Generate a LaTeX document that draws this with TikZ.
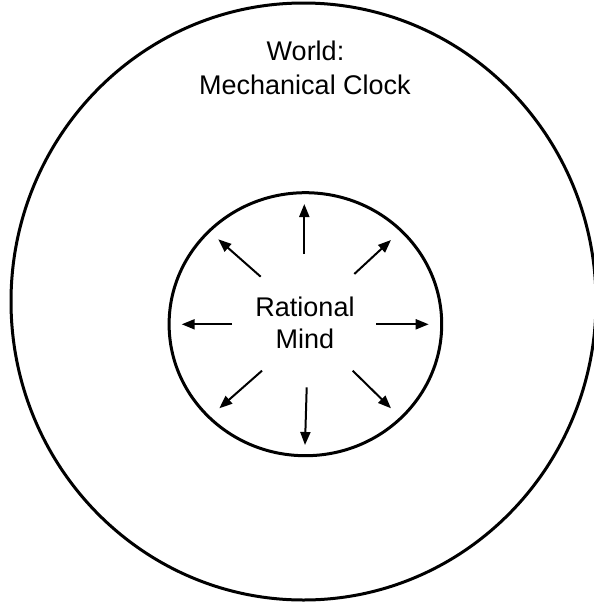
\documentclass[tikz,border=0pt]{standalone}
\usepackage{fontspec}
\setmainfont{Liberation Sans}
\usetikzlibrary{arrows.meta}
\begin{document}
\begin{tikzpicture}[x=1pt,y=-1pt,
  ring/.style={line width=3pt},
  ray/.style={line width=2pt,-{Triangle[length=13pt,width=10pt]}},
  lbl/.style={font=\fontsize{27}{33}\selectfont, inner sep=0pt, anchor=base}]
\useasboundingbox (0,0) rectangle (594,603);
% circles
\draw[ring] (303.5,301.5) ellipse [x radius=292.5pt, y radius=298.5pt];
\draw[ring] (305.4,324.2) ellipse [x radius=136.3pt, y radius=131.5pt];
% labels
\node[lbl] (world) at (305.5,60) {World:};
\node[lbl] (clock) at (305,94) {Mechanical Clock};
\node[lbl] (rational) at (305,316) {Rational};
\node[lbl] (mind) at (305,348) {Mind};
% ray end points
\coordinate (nS) at (304.3,254);   \coordinate (nE) at (304.3,204);
\coordinate (nwS) at (260.7,276.7); \coordinate (nwE) at (218.3,239.3);
\coordinate (neS) at (354.3,274);  \coordinate (neE) at (391,240);
\coordinate (wS) at (232,324.3);   \coordinate (wE) at (181.7,324.3);
\coordinate (eS) at (376,324.3);   \coordinate (eE) at (428.7,324.3);
\coordinate (swS) at (262,370.7);  \coordinate (swE) at (219.3,408.3);
\coordinate (sS) at (306.7,387.3); \coordinate (sE) at (305,445);
\coordinate (seS) at (352.7,370.7); \coordinate (seE) at (391,408.3);
\foreach \d in {n,nw,ne,w,e,sw,s,se}
  \draw[ray] (\d S) -- (\d E);
\end{tikzpicture}
\end{document}
